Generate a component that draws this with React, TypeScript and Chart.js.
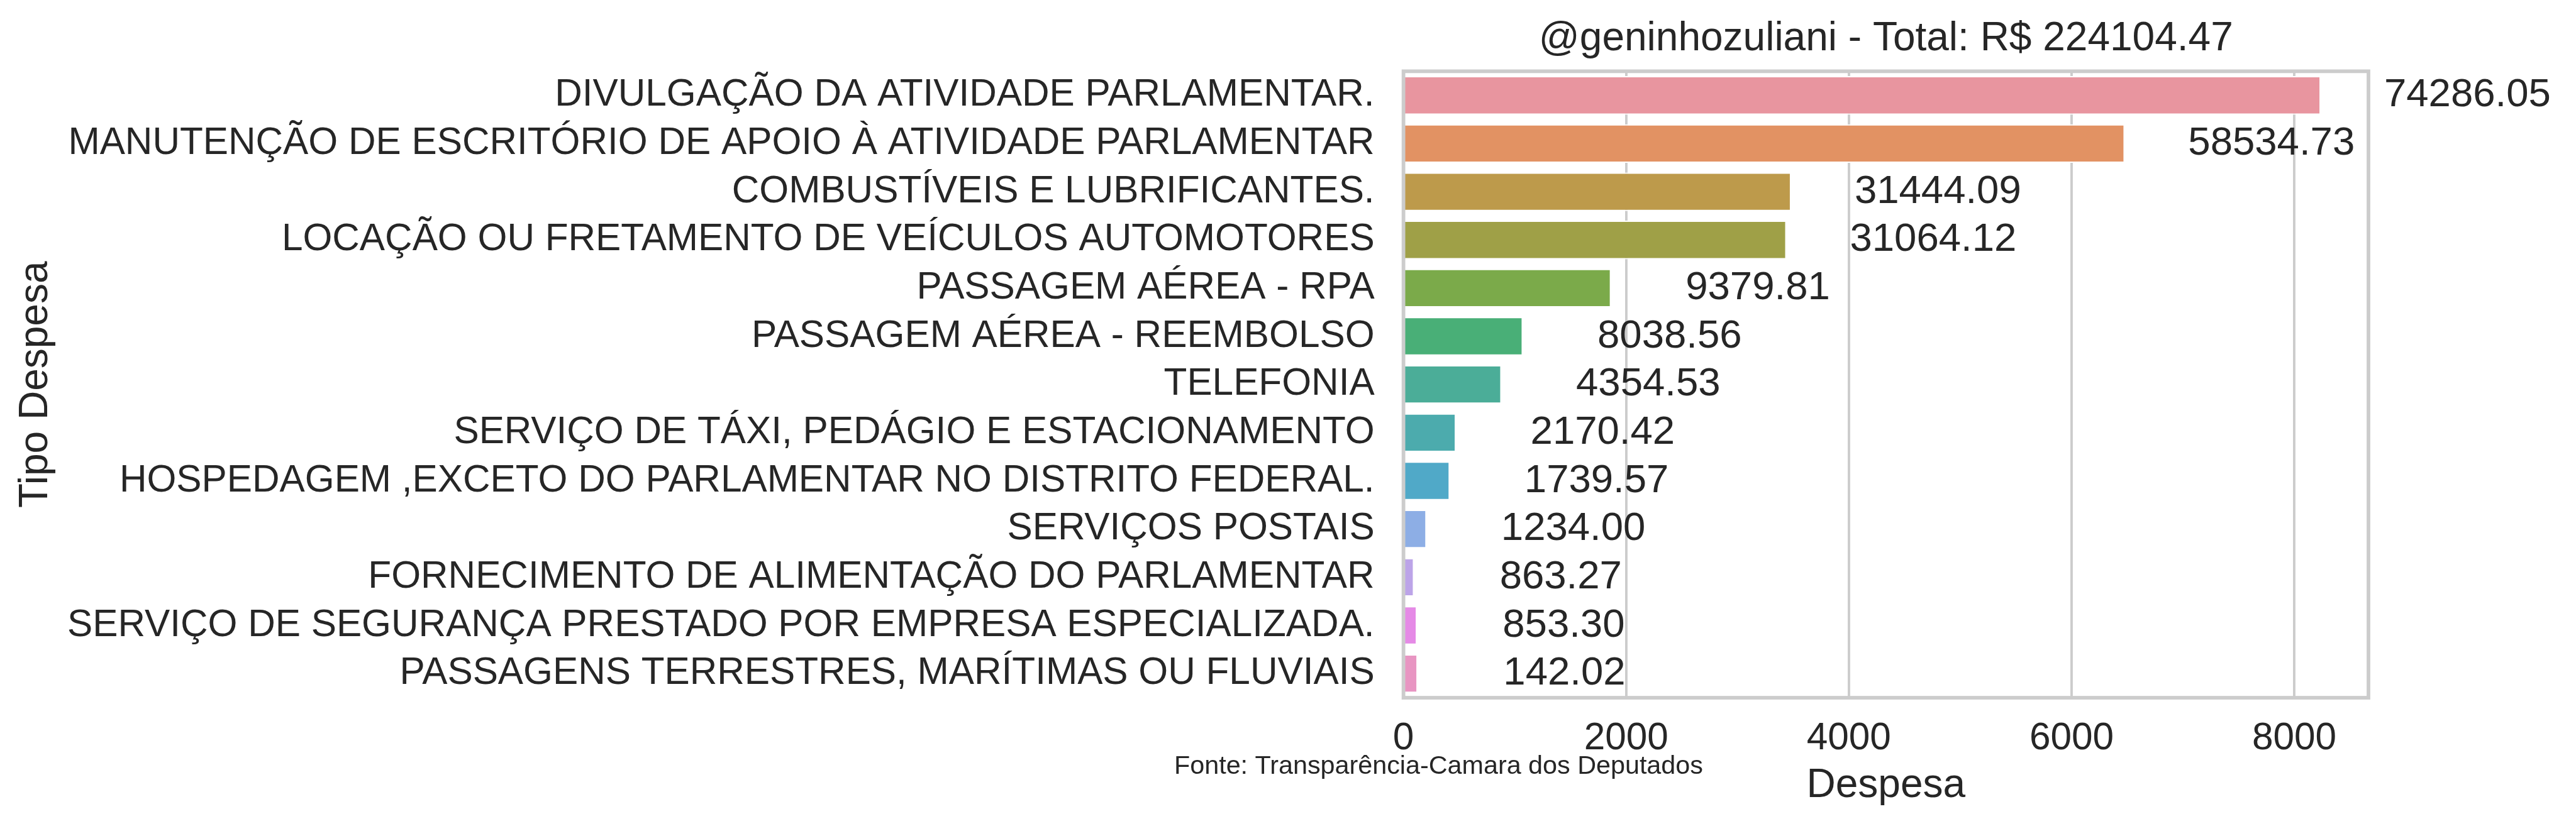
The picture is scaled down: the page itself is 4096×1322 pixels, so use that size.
import React, { useEffect, useRef } from 'react';
import { Chart, registerables } from 'chart.js';

Chart.register(...registerables);

// ---------- data ----------
const categories = [
  'DIVULGAÇÃO DA ATIVIDADE PARLAMENTAR.',
  'MANUTENÇÃO DE ESCRITÓRIO DE APOIO À ATIVIDADE PARLAMENTAR',
  'COMBUSTÍVEIS E LUBRIFICANTES.',
  'LOCAÇÃO OU FRETAMENTO DE VEÍCULOS AUTOMOTORES',
  'PASSAGEM AÉREA - RPA',
  'PASSAGEM AÉREA - REEMBOLSO',
  'TELEFONIA',
  'SERVIÇO DE TÁXI, PEDÁGIO E ESTACIONAMENTO',
  'HOSPEDAGEM ,EXCETO DO PARLAMENTAR NO DISTRITO FEDERAL.',
  'SERVIÇOS POSTAIS',
  'FORNECIMENTO DE ALIMENTAÇÃO DO PARLAMENTAR',
  'SERVIÇO DE SEGURANÇA PRESTADO POR EMPRESA ESPECIALIZADA.',
  'PASSAGENS TERRESTRES, MARÍTIMAS OU FLUVIAIS',
];

const barValues = [8237, 6477, 3481, 3439, 1864, 1072, 880, 471, 416, 207, 95, 121, 127];

const totalLabels = [
  '74286.05', '58534.73', '31444.09', '31064.12', '9379.81', '8038.56', '4354.53',
  '2170.42', '1739.57', '1234.00', '863.27', '853.30', '142.02',
];

const barColors = [
  '#e8959f', '#e29263', '#bd9a4b', '#9fa047', '#7baa4a', '#49af77', '#4bad98',
  '#4cabad', '#50a9c8', '#8daee5', '#bca4e8', '#e58ae6', '#e895c2',
];

const xTickValues = [0, 2000, 4000, 6000, 8000];
const xMax = 8666;
const labelOffset = 1318; // value-label centre, in data units to the right of the bar end

const titleText = '@geninhozuliani - Total: R$ 224104.47';
const xTitle = 'Despesa';
const yTitle = 'Tipo Despesa';
const sourceText = 'Fonte: Transparência-Camara dos Deputados';

// ---------- style ----------
const FONT = '"Liberation Sans", Arial, Helvetica, sans-serif';
const INK = '#262626';
const GRID = '#cccccc';

const overlayPlugin = {
  id: 'overlay',
  afterDatasetsDraw(chart: any) {
    const { ctx, chartArea } = chart;
    ctx.save();
    // axes frame (spines)
    ctx.strokeStyle = GRID;
    ctx.lineWidth = 5.8;
    ctx.strokeRect(
      chartArea.left,
      chartArea.top,
      chartArea.right - chartArea.left,
      chartArea.bottom - chartArea.top
    );
    // value labels
    const meta = chart.getDatasetMeta(0);
    const xs = chart.scales.x;
    ctx.fillStyle = INK;
    ctx.font = `63.5px ${FONT}`;
    ctx.textAlign = 'center';
    ctx.textBaseline = 'middle';
    meta.data.forEach((el: any, i: number) => {
      ctx.fillText(totalLabels[i], xs.getPixelForValue(barValues[i] + labelOffset), el.y);
    });
    // source note
    ctx.font = `41.3px ${FONT}`;
    ctx.textAlign = 'left';
    ctx.textBaseline = 'alphabetic';
    ctx.fillText(sourceText, 1867, 1231);
    ctx.restore();
  },
};

export default function App() {
  const canvasRef = useRef<HTMLCanvasElement | null>(null);

  useEffect(() => {
    if (!canvasRef.current) return;
    const chart = new Chart(canvasRef.current, {
      type: 'bar',
      data: {
        labels: categories,
        datasets: [
          {
            data: barValues,
            backgroundColor: barColors,
            borderColor: '#ffffff',
            borderWidth: 2,
            barPercentage: 0.8,
            categoryPercentage: 1,
          },
        ],
      },
      options: {
        indexAxis: 'y',
        responsive: false,
        devicePixelRatio: 1,
        animation: false,
        layout: { padding: { left: 0, right: 330, top: 0, bottom: 0 } },
        plugins: {
          legend: { display: false },
          tooltip: { enabled: false },
          title: {
            display: true,
            text: titleText,
            color: INK,
            fullSize: false,
            font: { family: FONT, size: 64, weight: 'normal' },
            padding: { top: 23.6, bottom: 13 },
          },
        },
        scales: {
          x: {
            type: 'linear',
            position: 'bottom',
            min: 0,
            max: xMax,
            afterFit: (s: any) => {
              s.height = 212;
            },
            afterBuildTicks: (s: any) => {
              s.ticks = xTickValues.map((v) => ({ value: v }));
            },
            grid: { color: GRID, lineWidth: 3.9, drawTicks: false },
            border: { display: false },
            ticks: {
              padding: 29.5,
              color: INK,
              font: { family: FONT, size: 60.3 },
              callback: (v: any) => String(v),
            },
            title: {
              display: true,
              text: xTitle,
              color: INK,
              font: { family: FONT, size: 64 },
              padding: { top: 0, bottom: 33.6 },
            },
          },
          y: {
            type: 'category',
            afterFit: (s: any) => {
              s.width = 2231.6;
            },
            grid: { display: false, drawTicks: false },
            border: { display: false },
            ticks: {
              autoSkip: false,
              padding: 46,
              color: INK,
              font: { family: FONT, size: 60.3 },
            },
            title: {
              display: true,
              text: yTitle,
              color: INK,
              font: { family: FONT, size: 64 },
              padding: { top: 18.6, bottom: 0 },
            },
          },
        },
      },
      plugins: [overlayPlugin],
    } as any);
    return () => chart.destroy();
  }, []);

  return (
    <div style={{ position: 'fixed', left: 0, top: 0, width: 4096, height: 1322, background: '#ffffff' }}>
      <canvas ref={canvasRef} width={4096} height={1322} style={{ display: 'block' }} />
    </div>
  );
}
